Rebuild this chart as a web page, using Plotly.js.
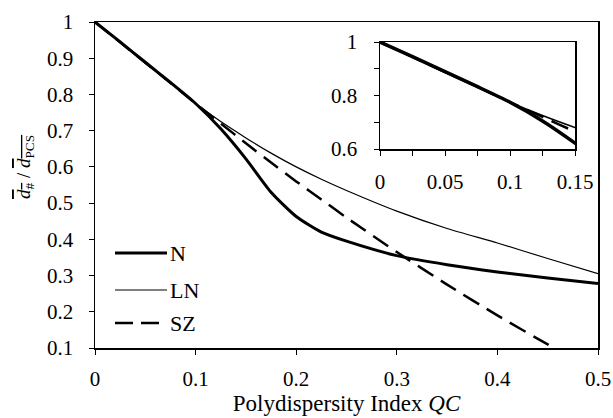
<!DOCTYPE html>
<html>
<head>
<meta charset="utf-8">
<script src="https://cdn.plot.ly/plotly-3.0.1.min.js"></script>
<style>html,body{margin:0;padding:0;background:#fff;}#chart{width:613px;height:418px;}</style>
</head>
<body>
<div id="chart"></div>
<script>
// Polydispersity index QC
const qc = [0, 0.025, 0.05, 0.075, 0.1, 0.125, 0.15, 0.175, 0.2, 0.225, 0.25, 0.3, 0.35, 0.4, 0.45, 0.5];
// ratio d#/dPCS for each distribution
const seriesN  = [1, 0.945, 0.889, 0.833, 0.775, 0.705, 0.622, 0.53, 0.463, 0.42, 0.395, 0.355, 0.33, 0.31, 0.293, 0.278];
const seriesLN = [1, 0.943, 0.886, 0.831, 0.775, 0.725, 0.68, 0.638, 0.6, 0.566, 0.535, 0.478, 0.43, 0.39, 0.347, 0.305];
const seriesSZ = [1, 0.944, 0.888, 0.832, 0.775, 0.72, 0.665, 0.612, 0.56, 0.51, 0.46, 0.365, 0.275, 0.19, 0.11, 0.035];
const seriesNames = ['N', 'LN', 'SZ'];

const mainXTicks = [0, 0.1, 0.2, 0.3, 0.4, 0.5];
const mainXText = ['0', '0.1', '0.2', '0.3', '0.4', '0.5'];
const mainYTicks = [0.1, 0.2, 0.3, 0.4, 0.5, 0.6, 0.7, 0.8, 0.9, 1];
const mainYText = ['0.1', '0.2', '0.3', '0.4', '0.5', '0.6', '0.7', '0.8', '0.9', '1'];
const insetXTicks = [0, 0.05, 0.1, 0.15];
const insetXText = ['0', '0.05', '0.1', '0.15'];
const insetXMinor = [0.025, 0.075, 0.125];
const insetYTicks = [0.6, 0.8, 1];
const insetYText = ['0.6', '0.8', '1'];
const insetYMinor = [0.7, 0.9];

const FONT = 'Liberation Serif';
const styles = {
  N:  {color: '#000', width: 3, dash: 'solid'},
  LN: {color: '#000', width: 1.2, dash: 'solid'},
  SZ: {color: '#000', width: 2.5, dash: '18px,9px'}
};
const data = [seriesN, seriesLN, seriesSZ];

const traces = [];
seriesNames.forEach((nm, i) => {
  traces.push({x: qc, y: data[i], type: 'scatter', mode: 'lines', name: nm,
    line: Object.assign({}, styles[nm], {shape: 'spline', smoothing: 0.6}), xaxis: 'x', yaxis: 'y', showlegend: false, hoverinfo: 'skip'});
});
seriesNames.forEach((nm, i) => {
  const st = Object.assign({}, styles[nm]);
  if (nm === 'N') st.width = 3.5;
  if (nm === 'LN') st.width = 1.5;
  traces.push({x: qc, y: data[i], type: 'scatter', mode: 'lines', name: nm,
    line: Object.assign(st, {shape: 'spline', smoothing: 0.6}), xaxis: 'x2', yaxis: 'y2', showlegend: false, hoverinfo: 'skip'});
});

// paper coordinate helpers for layout positions (not data)
const px = v => (v - 95) / 503;
const py = v => (348 - v) / 326;

const shapes = [];
const annotations = [];
const legendY = [253, 290, 323];
seriesNames.forEach((nm, i) => {
  shapes.push({type: 'line', xref: 'paper', yref: 'paper', x0: px(115), x1: px(167), y0: py(legendY[i]), y1: py(legendY[i]),
    line: {color: '#000', width: styles[nm].width, dash: nm === 'SZ' ? '18px,8px' : 'solid'}});
  annotations.push({xref: 'paper', yref: 'paper', x: px(168), y: py(legendY[i]), xanchor: 'left', yanchor: 'middle',
    text: nm, showarrow: false, font: {family: FONT, size: 22, color: '#000'}});
});
annotations.push({xref: 'paper', yref: 'paper', x: px(25), y: py(167), xanchor: 'center', yanchor: 'middle', textangle: -90,
  text: '<span style="text-decoration:overline"><i>d</i><sub>#</sub></span> / <span style="text-decoration:overline"><i>d</i><sub>PCS</sub></span>',
  showarrow: false, font: {family: FONT, size: 19, color: '#000'}});

function axis(extra) {
  return Object.assign({showline: true, linecolor: '#000', linewidth: 1.5, mirror: true, ticks: 'outside', ticklen: 5,
    tickcolor: '#000', tickwidth: 1, showgrid: false, zeroline: false, tickmode: 'array',
    tickfont: {family: FONT, size: 21, color: '#000'}}, extra);
}

const layout = {
  width: 613, height: 418,
  margin: {l: 95, r: 15, t: 22, b: 70},
  paper_bgcolor: '#fff', plot_bgcolor: '#fff',
  showlegend: false,
  font: {family: FONT, size: 21, color: '#000'},
  xaxis: axis({domain: [0, 1], range: [0, 0.5], tickvals: mainXTicks, ticktext: mainXText, ticklabelstandoff: 6,
    title: {text: 'Polydispersity Index <i>QC</i>', font: {family: FONT, size: 23, color: '#000'}, standoff: 2}}),
  yaxis: axis({domain: [0, 1], range: [0.1, 1], tickvals: mainYTicks, ticktext: mainYText, ticklabelstandoff: 11}),
  xaxis2: axis({domain: [px(380), px(575)], range: [0, 0.15], tickvals: insetXTicks, ticktext: insetXText, anchor: 'y2',
    ticklabelstandoff: 8, minor: {tickvals: insetXMinor, ticks: 'outside', ticklen: 5, tickcolor: '#000', tickwidth: 1, showgrid: false}}),
  yaxis2: axis({domain: [py(149), py(42)], range: [0.6, 1], tickvals: insetYTicks, ticktext: insetYText, anchor: 'x2',
    ticklabelstandoff: 12, minor: {tickvals: insetYMinor, ticks: 'outside', ticklen: 5, tickcolor: '#000', tickwidth: 1, showgrid: false}}),
  shapes: shapes,
  annotations: annotations
};

Plotly.newPlot('chart', traces, layout, {staticPlot: true, displayModeBar: false});
</script>
</body>
</html>
